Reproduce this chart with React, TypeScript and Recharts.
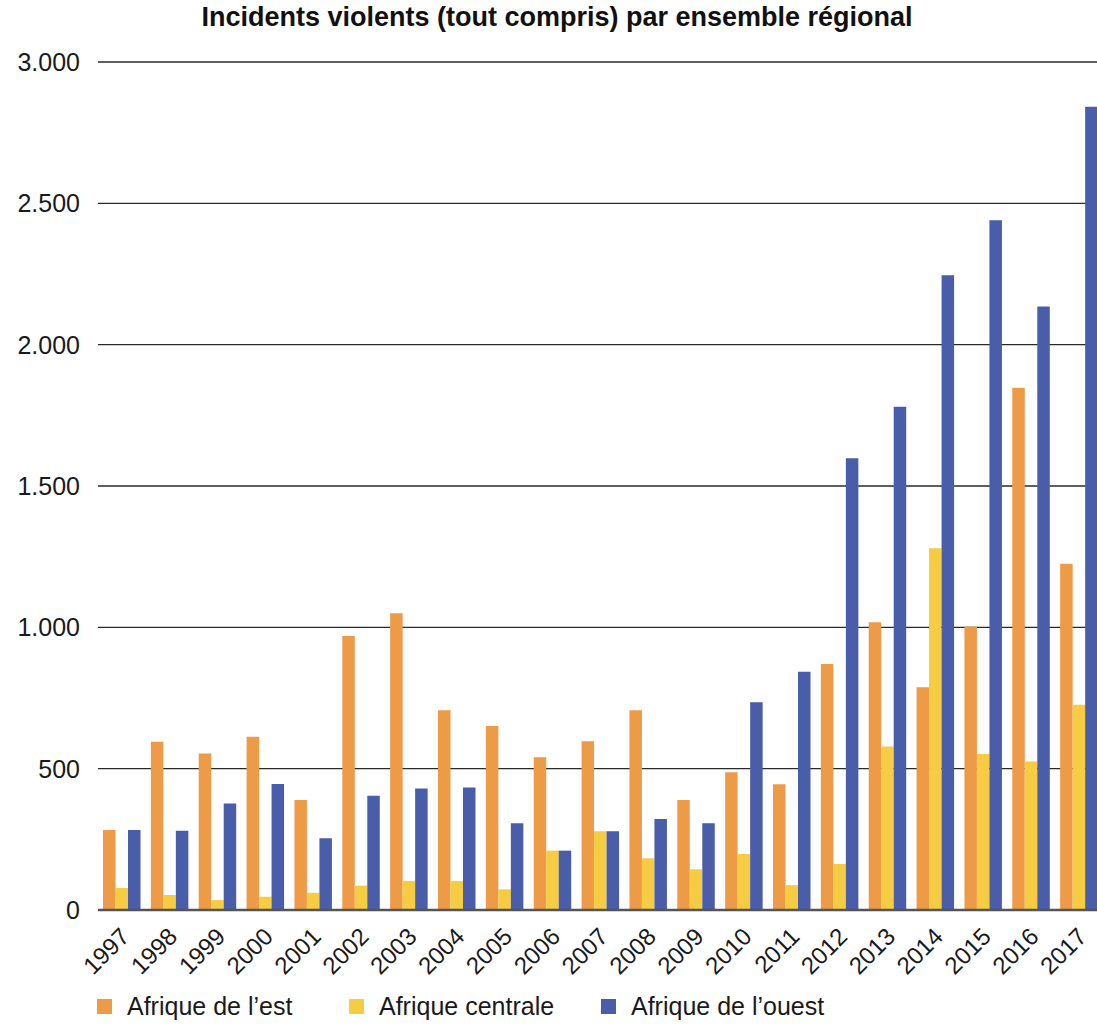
import React from 'react';
import { BarChart, Bar, XAxis, YAxis, CartesianGrid } from 'recharts';

const years = ['1997','1998','1999','2000','2001','2002','2003','2004','2005','2006','2007','2008','2009','2010','2011','2012','2013','2014','2015','2016','2017'];
const afriqueEst = [283,595,554,613,389,969,1050,707,651,540,597,707,389,487,445,870,1018,788,1003,1848,1225];
const afriqueCentrale = [78,53,35,47,61,86,103,103,73,210,279,183,144,198,88,163,578,1280,552,525,726];
const afriqueOuest = [283,280,377,446,254,404,430,433,307,210,279,322,307,735,843,1598,1780,2246,2440,2135,2842];
const yTicks = [0,500,1000,1500,2000,2500,3000];

const seriesNames = ["Afrique de l\u2019est", 'Afrique centrale', "Afrique de l\u2019ouest"];
const seriesKeys = ['est', 'centrale', 'ouest'];
const seriesColors = ['#EE9B48', '#F5CC42', '#4A5DA8'];

const data = years.map((y, i) => ({
  year: y,
  est: afriqueEst[i],
  centrale: afriqueCentrale[i],
  ouest: afriqueOuest[i],
}));

const FONT = '"Liberation Sans", Arial, Helvetica, sans-serif';

const fmt = (v: number) => v.toString().replace(/\B(?=(\d{3})+(?!\d))/g, '.');

const XTick = (props: any) => {
  const { x, y, payload } = props;
  return (
    <g transform={`translate(${x + 9},${y + 28})`}>
      <text textAnchor="end" transform="rotate(-45)" fontSize={24} fill="#1a1a1a" fontFamily={FONT}>
        {payload.value}
      </text>
    </g>
  );
};

const YTick = (props: any) => {
  const { x, y, payload } = props;
  return (
    <text x={x} y={y} dy={9} textAnchor="end" fontSize={25} fill="#1a1a1a" fontFamily={FONT}>
      {fmt(payload.value)}
    </text>
  );
};

export default function App() {
  return (
    <div style={{ position: 'absolute', left: 0, top: 0, width: 1097, height: 1026, overflow: 'hidden', background: '#fff', fontFamily: FONT }}>
      <div style={{ position: 'absolute', left: 557, top: 2, transform: 'translateX(-50%)', whiteSpace: 'nowrap', fontSize: 27, fontWeight: 700, lineHeight: '30px', color: '#111' }}>
        Incidents violents (tout compris) par ensemble régional
      </div>
      <BarChart width={1103} height={1026} data={data} margin={{ top: 62, right: 0, bottom: 0, left: 0 }} barGap={0}>
        <CartesianGrid horizontal={true} vertical={false} stroke="#2a2a2a" strokeWidth={1.4} />
        <XAxis dataKey="year" height={116} tickLine={false} tickSize={0} tickMargin={0} interval={0}
          axisLine={{ stroke: '#555', strokeWidth: 2.5 }} tick={<XTick />} />
        <YAxis width={98} domain={[0, 3000]} ticks={yTicks} tickLine={false} axisLine={false}
          tickSize={0} tickMargin={18} tick={<YTick />} interval={0} />
        {seriesKeys.map((k, i) => (
          <Bar key={k} dataKey={k} name={seriesNames[i]} fill={seriesColors[i]} barSize={12.5} isAnimationActive={false} />
        ))}
      </BarChart>
      <div style={{ position: 'absolute', left: 97, top: 991, height: 30, display: 'flex', alignItems: 'center' }}>
        {seriesNames.map((n, i) => (
          <div key={n} style={{ display: 'flex', alignItems: 'center', width: 252 }}>
            <div style={{ width: 15, height: 15, background: seriesColors[i], marginRight: 15 }} />
            <span style={{ fontSize: 25, color: '#1a1a1a' }}>{n}</span>
          </div>
        ))}
      </div>
    </div>
  );
}
